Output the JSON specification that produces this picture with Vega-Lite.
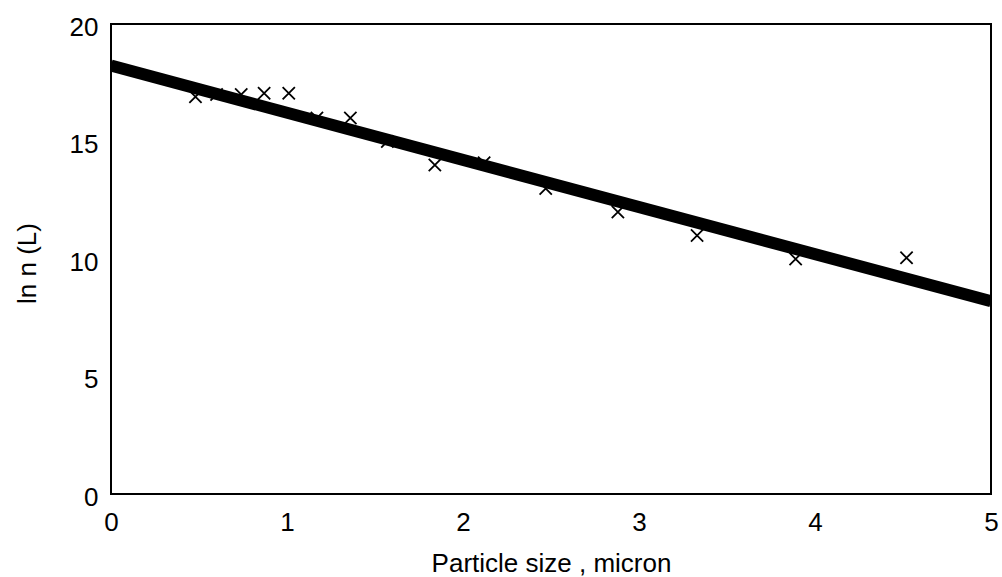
{
  "$schema": "https://vega.github.io/schema/vega-lite/v6.json",
  "width": 880,
  "height": 470,
  "autosize": {"type": "none"},
  "padding": {"left": 111, "top": 24, "right": 11, "bottom": 83},
  "background": "white",
  "config": {
    "view": {"stroke": "black", "strokeWidth": 2},
    "font": "Liberation Sans",
    "axis": {
      "grid": false,
      "domain": false,
      "ticks": false,
      "tickSize": 0,
      "labelFont": "Liberation Sans",
      "titleFont": "Liberation Sans",
      "labelFontSize": 26,
      "titleFontSize": 26,
      "labelColor": "black",
      "titleColor": "black",
      "titleFontWeight": "normal"
    }
  },
  "datasets": {
    "pts": [
      {"size": 0.48, "lnn": 16.9},
      {"size": 0.6, "lnn": 17.0},
      {"size": 0.74, "lnn": 17.0},
      {"size": 0.87, "lnn": 17.05},
      {"size": 1.01, "lnn": 17.05},
      {"size": 1.17, "lnn": 16.0},
      {"size": 1.36, "lnn": 16.0},
      {"size": 1.57, "lnn": 15.0},
      {"size": 1.84, "lnn": 14.0},
      {"size": 2.12, "lnn": 14.1},
      {"size": 2.47, "lnn": 13.0},
      {"size": 2.88, "lnn": 12.0},
      {"size": 3.33, "lnn": 11.0},
      {"size": 3.89, "lnn": 10.0},
      {"size": 4.52, "lnn": 10.05}
    ],
    "fit": [
      {"size": 0, "lnn": 18.23},
      {"size": 5, "lnn": 8.2}
    ]
  },
  "layer": [
    {
      "data": {"name": "pts"},
      "mark": {
        "type": "point",
        "shape": "M-1,-1L1,1M-1,1L1,-1",
        "filled": false,
        "stroke": "black",
        "strokeWidth": 1.8,
        "size": 150,
        "opacity": 1
      },
      "encoding": {
        "x": {
          "field": "size",
          "type": "quantitative",
          "scale": {"domain": [0, 5], "nice": false, "zero": false},
          "axis": {
            "values": [0, 1, 2, 3, 4, 5],
            "format": "d",
            "title": "Particle size , micron",
            "labelPadding": 28,
            "labelBaseline": "middle",
            "labelFlush": false,
            "titleX": 440,
            "titleY": 69,
            "titleBaseline": "middle",
            "titleAlign": "center"
          }
        },
        "y": {
          "field": "lnn",
          "type": "quantitative",
          "scale": {"domain": [0, 20], "nice": false, "zero": false},
          "axis": {
            "values": [0, 5, 10, 15, 20],
            "format": "d",
            "title": "ln n (L)",
            "labelPadding": 13,
            "labelBaseline": "middle",
            "labelOffset": 3,
            "labelFlush": false,
            "titleX": -84,
            "titleY": 239,
            "titleAngle": -90,
            "titleAlign": "center",
            "titleBaseline": "middle"
          }
        }
      }
    },
    {
      "data": {"name": "fit"},
      "mark": {"type": "line", "color": "black", "strokeWidth": 12, "strokeCap": "butt", "clip": true},
      "encoding": {
        "x": {"field": "size", "type": "quantitative"},
        "y": {"field": "lnn", "type": "quantitative"}
      }
    }
  ]
}
